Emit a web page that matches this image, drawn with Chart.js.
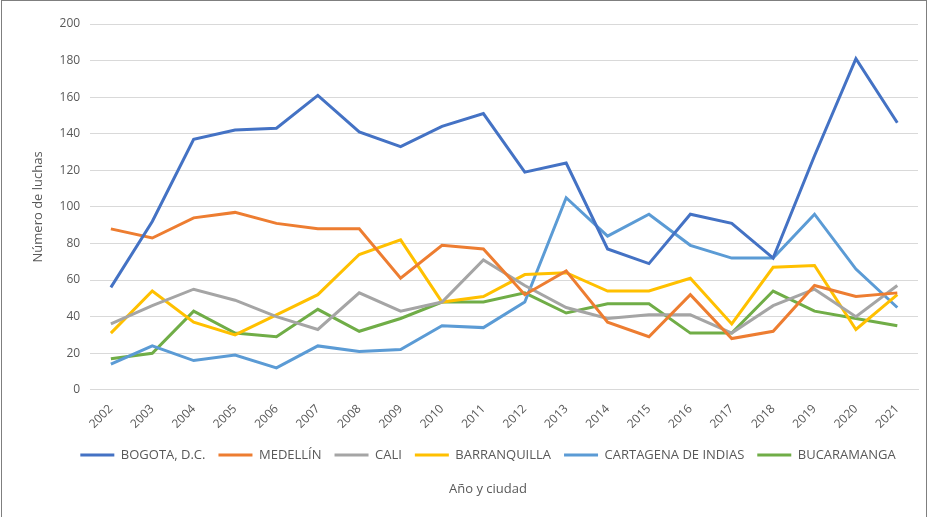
<!DOCTYPE html>
<html>
<head>
<meta charset="utf-8">
<script src="https://cdn.jsdelivr.net/npm/chart.js@4"></script>
<style>
  body { margin: 0; background: #fff; }
  #wrap { position: relative; width: 924px; height: 516px; border: 1px solid #7f7f7f; border-bottom: none; margin-left: 1px; }
</style>
</head>
<body>
<div id="wrap"><canvas id="luchas"></canvas></div>
<script>
const years = ['2002', '2003', '2004', '2005', '2006', '2007', '2008', '2009', '2010', '2011',
  '2012', '2013', '2014', '2015', '2016', '2017', '2018', '2019', '2020', '2021'];
const bogota = [56, 92, 137, 142, 143, 161, 141, 133, 144, 151, 119, 124, 77, 69, 96, 91, 72, 128, 181, 146];
const medellin = [88, 83, 94, 97, 91, 88, 88, 61, 79, 77, 52, 65, 37, 29, 52, 28, 32, 57, 51, 53];
const cali = [36, 46, 55, 49, 40, 33, 53, 43, 48, 71, 57, 45, 39, 41, 41, 31, 46, 55, 40, 57];
const barranquilla = [31, 54, 37, 30, 41, 52, 74, 82, 48, 51, 63, 64, 54, 54, 61, 36, 67, 68, 33, 52];
const cartagena = [14, 24, 16, 19, 12, 24, 21, 22, 35, 34, 48, 105, 84, 96, 79, 72, 72, 96, 66, 45];
const bucaramanga = [17, 20, 43, 31, 29, 44, 32, 39, 48, 48, 53, 42, 47, 47, 31, 31, 54, 43, 39, 35];

const txt = '#595959';
const font = 'Open Sans, Liberation Sans, sans-serif';

function serie(label, data, color) {
  return {
    label: label,
    data: data,
    borderColor: color,
    backgroundColor: color,
    borderWidth: 3,
    pointRadius: 0,
    pointStyle: 'line',
    tension: 0,
  };
}

// legend and bottom title sit a bit right of centre in the original
const shiftBottom = {
  id: 'shiftBottom',
  afterLayout(chart) {
    [chart.legend, chart.titleBlock].forEach((b) => {
      if (b) { b.left += 16; b.right += 16; }
    });
  },
};

new Chart(document.getElementById('luchas'), {
  type: 'line',
  data: {
    labels: years,
    datasets: [
      serie('BOGOTA, D.C.', bogota, '#4472C4'),
      serie('MEDELLÍN', medellin, '#ED7D31'),
      serie('CALI', cali, '#A5A5A5'),
      serie('BARRANQUILLA', barranquilla, '#FFC000'),
      serie('CARTAGENA DE INDIAS', cartagena, '#5B9BD5'),
      serie('BUCARAMANGA', bucaramanga, '#70AD47'),
    ],
  },
  options: {
    responsive: true,
    maintainAspectRatio: false,
    animation: false,
    layout: { padding: { left: 24, right: 8, top: 23, bottom: 20 } },
    scales: {
      x: {
        offset: true,
        grid: { display: false },
        border: { color: '#d9d9d9' },
        ticks: { color: txt, font: { family: font, size: 12 }, maxRotation: 45, minRotation: 45, autoSkip: false, padding: 4 },
      },
      y: {
        min: 0,
        max: 200,
        ticks: { stepSize: 20, color: txt, font: { family: font, size: 12 }, padding: 10 },
        grid: { color: '#d9d9d9', drawTicks: false },
        border: { display: false },
        title: { display: true, text: 'Número de luchas', color: txt, font: { family: font, size: 13 } },
      },
    },
    plugins: {
      legend: {
        position: 'bottom',
        labels: {
          usePointStyle: true,
          pointStyleWidth: 34,
          color: txt,
          font: { family: font, size: 13 },
          padding: 13,
        },
      },
      title: {
        display: true,
        position: 'bottom',
        text: 'Año y ciudad',
        color: txt,
        font: { family: font, size: 13, weight: 'normal' },
        padding: { top: 10, bottom: 0 },
      },
      tooltip: { enabled: false },
    },
  },
  plugins: [shiftBottom],
});
</script>
</body>
</html>
